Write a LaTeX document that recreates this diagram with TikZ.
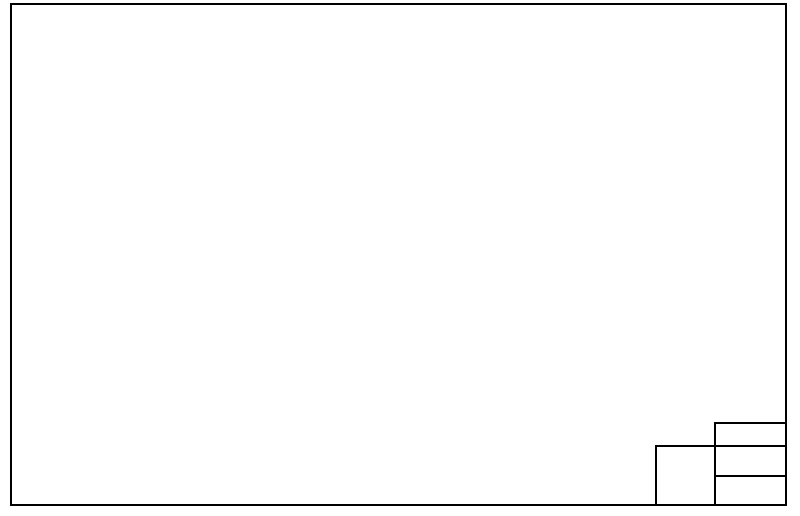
\documentclass[tikz,border=0pt]{standalone}
\begin{document}
\begin{tikzpicture}[x=1pt,y=-1pt,line width=1.7pt,line cap=rect]
\useasboundingbox (0,0) rectangle (800,516);
\fill[white] (0,0) rectangle (800,516);
% outer frame
\draw (11,4) rectangle (786,505);
% title block
\draw (656,505) -- (656,446) -- (786,446);
\draw (715,505) -- (715,423) -- (786,423);
\draw (715,476) -- (786,476);
\end{tikzpicture}
\end{document}
